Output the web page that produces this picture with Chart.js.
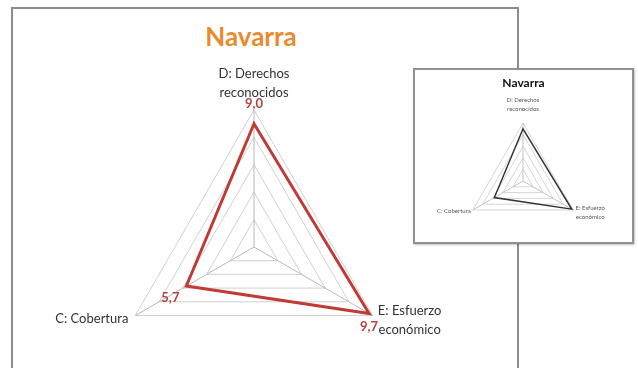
<!DOCTYPE html>
<html>
<head>
<meta charset="utf-8">
<script src="https://cdn.jsdelivr.net/npm/chart.js@4.4.1/dist/chart.umd.min.js"></script>
<style>
  body { margin: 0; background: #fff; width: 638px; height: 368px; overflow: hidden; position: relative; font-family: Lato, sans-serif; }
  #frame { position: absolute; left: 11px; top: 7px; width: 508px; height: 420px; box-sizing: border-box; border: 2px solid #8c8c8c; }
  #mainTitle { position: absolute; left: 0; width: 476px; top: 11px; text-align: center; font: bold 26px Lato, sans-serif; color: #e98a2e; }
  #mainCanvas { position: absolute; left: 0; top: 0; }
  #inset { position: absolute; left: 413px; top: 68px; width: 221px; height: 176px; box-sizing: border-box; border: 2px solid #909090; background: #fff; box-shadow: 1px 1px 2px rgba(0,0,0,.25); z-index: 2; }
  #insetTitle { position: absolute; left: 0; width: 217px; top: 5px; text-align: center; font: bold 12px Lato, sans-serif; color: #111; }
  #insetCanvas { position: absolute; left: 0; top: 0; }
</style>
</head>
<body>
<div id="frame"><div id="mainTitle">Navarra</div></div>
<canvas id="mainCanvas"></canvas>
<div id="inset">
  <div id="insetTitle">Navarra</div>
  <canvas id="insetCanvas"></canvas>
</div>
<script>
  const axisLabels = [['D: Derechos', 'reconocidos'], ['E: Esfuerzo', 'económico'], ['C: Cobertura']];
  const values = [9.0, 9.7, 5.7];
  const scaleMin = 0;
  const scaleMax = 10;
  const scaleStep = 2;

  const fmt = v => v.toFixed(1).replace('.', ',');

  // draws axis names around the vertices and value labels near the points
  const axisText = {
    id: 'axisText',
    afterDatasetsDraw(chart, args, opts) {
      const ctx = chart.ctx;
      const r = chart.scales.r;
      ctx.save();
      ctx.textBaseline = 'middle';
      axisLabels.forEach((lines, i) => {
        const p = r.getPointPosition(i, r.drawingArea);
        const s = opts.spots[i];
        ctx.font = opts.font;
        ctx.fillStyle = opts.color;
        ctx.textAlign = s.align;
        lines.forEach((t, k) => ctx.fillText(t, p.x + s.dx, p.y + s.dy + k * opts.lineH));
      });
      if (opts.valueSpots) {
        values.forEach((v, i) => {
          const p = r.getPointPosition(i, r.getDistanceFromCenterForValue(v));
          const s = opts.valueSpots[i];
          ctx.font = opts.valueFont;
          ctx.fillStyle = opts.valueColor;
          ctx.textAlign = 'center';
          ctx.fillText(fmt(v), p.x + s.dx, p.y + s.dy);
        });
      }
      ctx.restore();
    }
  };

  function radar(id, w, h, pad, line, grid, textOpts) {
    const cv = document.getElementById(id);
    cv.width = w; cv.height = h;
    cv.style.width = w + 'px'; cv.style.height = h + 'px';
    return new Chart(cv, {
      type: 'radar',
      data: {
        labels: axisLabels,
        datasets: [{ data: values, borderColor: line.color, borderWidth: line.width, backgroundColor: 'transparent', fill: false, pointRadius: 0, borderJoinStyle: 'miter' }]
      },
      options: {
        responsive: false, animation: false,
        layout: { padding: pad },
        plugins: { legend: { display: false }, tooltip: { enabled: false }, axisText: textOpts },
        scales: {
          r: {
            min: scaleMin, max: scaleMax,
            ticks: { display: false, stepSize: scaleStep },
            grid: { color: grid.color, lineWidth: 1 },
            angleLines: { color: grid.angle, lineWidth: 1 },
            pointLabels: { display: false }
          }
        }
      },
      plugins: [axisText]
    });
  }

  radar('mainCanvas', 638, 400, { left: 117, right: 247, top: 110, bottom: 16 },
    { color: '#c13b36', width: 3 },
    { color: '#d0d0d0', angle: '#b8b8b8' },
    {
      font: '13px Lato, sans-serif', color: '#333333', lineH: 19,
      spots: [{ dx: 0, dy: -36, align: 'center' }, { dx: 37, dy: -5, align: 'center' }, { dx: -7, dy: 3, align: 'right' }],
      valueFont: 'bold 13px Lato, sans-serif', valueColor: '#b3433e',
      valueSpots: [{ dx: 0, dy: -20 }, { dx: 0, dy: 13 }, { dx: -16, dy: 12 }]
    });

  radar('insetCanvas', 217, 172, { left: 50, right: 51, top: 53, bottom: 3 },
    { color: '#333333', width: 1.5 },
    { color: '#d6d6d6', angle: '#c4c4c4' },
    {
      font: '6px Lato, sans-serif', color: '#555', lineH: 9,
      spots: [{ dx: 0, dy: -23, align: 'center' }, { dx: 17, dy: -2, align: 'center' }, { dx: -2, dy: 1, align: 'right' }]
    });
</script>
</body>
</html>
